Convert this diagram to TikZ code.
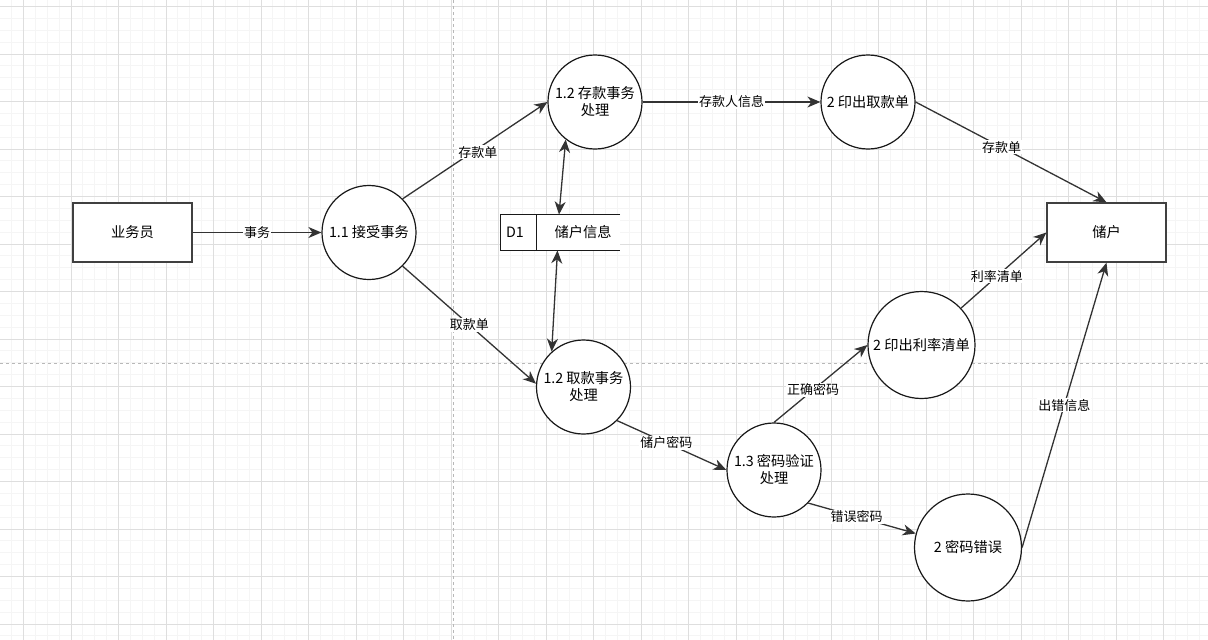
\documentclass[tikz,border=0pt]{standalone}
\usepackage{fontspec}
\setmainfont{Noto Sans CJK SC}
\usetikzlibrary{arrows.meta}
\newcommand\nodefont{\fontsize{14.25}{17}\selectfont}
\newcommand\edgefont{\fontsize{13}{15}\selectfont}

\begin{document}
\begin{tikzpicture}[x=1pt,y=-1pt,
		>={Stealth[length=13pt,width=11pt,inset=4pt]},
		proc/.style={circle,draw=black!90,fill=white,line width=1.2pt,minimum size=94pt,inner sep=0pt,align=center,font=\nodefont},
		ent/.style={rectangle,draw=black!75,fill=white,line width=1.3pt,minimum width=119pt,minimum height=59pt,font=\nodefont},
		flow/.style={draw=black!80,line width=1.3pt,->},
		lbl/.style={fill=white,inner sep=1pt,font=\edgefont}]
		\useasboundingbox (0,0) rectangle (1208,640);
		\clip (0,0) rectangle (1208,640);
		
		% Background grid
		\foreach \i in {0,...,101}
			\draw[black!4,line width=1pt] (11.625+11.875*\i,0) -- (11.625+11.875*\i,640);
		\foreach \j in {0,...,53}
			\draw[black!4,line width=1pt] (0,6.5+11.875*\j) -- (1208,6.5+11.875*\j);
		\foreach \i in {0,...,25}
			\draw[black!13,line width=0.8pt] (23.5+47.5*\i,0) -- (23.5+47.5*\i,640);
		\foreach \j in {0,...,13}
			\draw[black!13,line width=0.8pt] (0,6.5+47.5*\j) -- (1208,6.5+47.5*\j);
		
		% Page breaks
		\draw[black!28,dashed,line width=0.8pt] (453,0) -- (453,640);
		\draw[black!28,dashed,line width=0.8pt] (0,363) -- (1208,363);
		
		% External entities
		\node[ent] (clerk) at (132.5,232.5) {业务员};
		\node[ent] (customer) at (1106.5,232.5) {储户};
		
		% Processes
		\node[proc] (accept) at (369,232.5) {1.1 接受事务};
		\node[proc] (deposit) at (595,102) {1.2 存款事务\\处理};
		\node[proc] (withdraw) at (583.5,387) {1.2 取款事务\\处理};
		\node[proc] (verify) at (774,470) {1.3 密码验证\\处理};
		\node[proc] (printslip) at (868,102) {2 印出取款单};
		\node[proc,minimum size=107pt] (printrate) at (921.5,345) {2 印出利率清单};
		\node[proc,minimum size=107pt] (pwderr) at (968,547.5) {2 密码错误};
		
		% Data store
		\node[fill=white,minimum width=119pt,minimum height=35.5pt,inner sep=0pt] (store) at (560.5,232.5) {};
		\draw[black!90,line width=1.2pt] (store.north east) -- (store.north west) -- (store.south west) -- (store.south east);
		\draw[black!90,line width=1.2pt] ([xshift=35.5pt]store.north west) -- ([xshift=35.5pt]store.south west);
		\node[font=\nodefont] (storeid) at (515,232.5) {D1};
		\node[font=\nodefont] (storename) at (583,232.5) {储户信息};
		
		% Data flows
		\draw[flow] (clerk) -- node[lbl] {事务} (accept);
		\draw[flow] (accept.45) -- node[lbl,pos=0.52,yshift=-4pt] {存款单} (deposit.west);
		\draw[flow] (accept.-45) -- node[lbl] {取款单} (withdraw.176);
		\draw[flow] (deposit) -- node[lbl] {存款人信息} (printslip);
		\draw[flow] (printslip.east) -- node[lbl,pos=0.45] {存款单} (customer.north);
		\draw[flow,<->] (deposit.-128) -- ([xshift=-1.5pt]store.north);
		\draw[flow,<->] ([xshift=-3pt]store.south) -- (withdraw.132);
		\draw[flow] (withdraw.-45) -- node[lbl,pos=0.45] {储户密码} (verify.west);
		\draw[flow] (verify.north) -- node[lbl,pos=0.42] {正确密码} (printrate.west);
		\draw[flow] (verify.-44) -- node[lbl,pos=0.45] {错误密码} (pwderr.165);
		\draw[flow] (printrate.43) -- node[lbl,pos=0.42] {利率清单} (customer.west);
		\draw[flow] (pwderr.east) -- node[lbl] {出错信息} (customer.south);
	\end{tikzpicture}
\end{document}
